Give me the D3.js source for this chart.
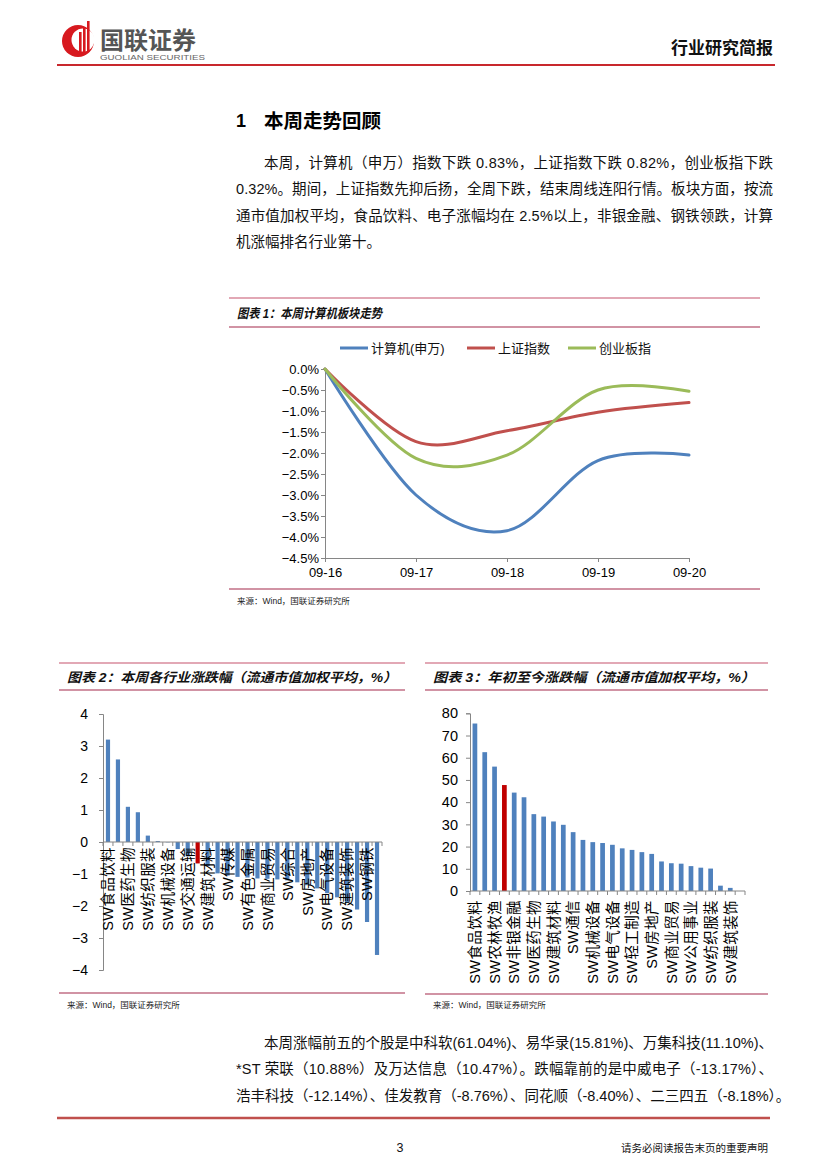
<!DOCTYPE html>
<html><head><meta charset="utf-8">
<script src="https://cdn.jsdelivr.net/npm/d3@7"></script>
<style>
body{margin:0;background:#fff}
svg{display:block}
text{font-family:"Liberation Sans","Noto Sans CJK SC",sans-serif}
</style>
</head><body>
<svg id="page" width="827" height="1169"></svg>
<script>
// ---------- DATA ----------
const lineDates = ["09-16","09-17","09-18","09-19","09-20"];
const seriesNames = ["计算机(申万)","上证指数","创业板指"];
const seriesColors = ["#4f81bd","#c0504d","#9bbb59"];
const computerVals = [0, -3.00, -3.85, -2.18, -2.05];
const shanghaiVals = [0, -1.73, -1.47, -1.03, -0.80];
const chinextVals  = [0, -2.13, -2.05, -0.50, -0.53];
const lineYTicks = [0,-0.5,-1,-1.5,-2,-2.5,-3,-3.5,-4,-4.5];

const weekIndustries = ["SW食品饮料","SW电子","SW医药生物","SW家用电器","SW纺织服装","SW农林牧渔","SW机械设备","SW汽车","SW交通运输","SW计算机","SW建筑材料","SW国防军工","SW传媒","SW休闲服务","SW有色金属","SW化工","SW商业贸易","SW通信","SW综合","SW公用事业","SW房地产","SW采掘","SW电气设备","SW轻工制造","SW建筑装饰","SW银行","SW钢铁","SW非银金融"];
const weekValues = [3.2,2.58,1.1,0.93,0.2,0.03,-0.01,-0.22,-0.45,-0.67,-0.75,-0.98,-1.05,-1.09,-1.11,-1.14,-1.15,-1.17,-1.2,-1.26,-1.35,-1.45,-1.6,-1.73,-1.9,-2.11,-2.5,-3.53];
const weekHighlight = "SW计算机";
const weekTicks = [4,3,2,1,0,-1,-2,-3,-4];

const ytdIndustries = ["SW食品饮料","SW家用电器","SW农林牧渔","SW计算机","SW非银金融","SW电子","SW医药生物","SW休闲服务","SW建筑材料","SW汽车","SW通信","SW银行","SW机械设备","SW化工","SW电气设备","SW国防军工","SW轻工制造","SW传媒","SW房地产","SW有色金属","SW商业贸易","SW交通运输","SW公用事业","SW采掘","SW纺织服装","SW钢铁","SW建筑装饰","SW综合"];
const ytdValues = [75.4,62.5,56.0,47.7,44.3,42.2,34.6,33.5,31.3,29.8,26.5,23.0,22.0,21.6,20.8,19.2,18.5,17.5,16.7,13.3,12.5,12.3,11.2,10.5,10.1,2.4,1.4,0.0];
const ytdHighlight = "SW计算机";
const ytdTicks = [0,10,20,30,40,50,60,70,80];

const para1 = [
 "本周，计算机（申万）指数下跌 0.83%，上证指数下跌 0.82%，创业板指下跌",
 "0.32%。期间，上证指数先抑后扬，全周下跌，结束周线连阳行情。板块方面，按流",
 "通市值加权平均，食品饮料、电子涨幅均在 2.5%以上，非银金融、钢铁领跌，计算",
 "机涨幅排名行业第十。"];
const para2 = [
 "本周涨幅前五的个股是中科软(61.04%)、易华录(15.81%)、万集科技(11.10%)、",
 "*ST 荣联（10.88%）及万达信息（10.47%）。跌幅靠前的是中威电子（-13.17%）、",
 "浩丰科技（-12.14%）、佳发教育（-8.76%）、同花顺（-8.40%）、二三四五（-8.18%）。"];

// ---------- PAGE ----------
const svg = d3.select("#page");
const AX = "#868686", BLUE = "#4f81bd", RED = "#c00000";
const PINK = "#d98b9d", DARK = "#a3284a";

// header logo
const logo = svg.append("g");
logo.append("circle").attr("cx",78).attr("cy",41).attr("r",16).attr("fill","#d7191f");
logo.append("circle").attr("cx",83).attr("cy",40).attr("r",11.5).attr("fill","#fff");
[[79,32,56],[83,27,55],[87,21,52]].forEach(([x,y1,y2])=>{
  logo.append("rect").attr("x",x).attr("y",y1).attr("width",2.6).attr("height",y2-y1).attr("fill","#d7191f");
});
svg.append("text").attr("x",100).attr("y",48.5).attr("font-size",24).attr("font-weight","bold")
  .attr("fill","#555").attr("font-family","Noto Sans CJK SC").text("国联证券");
svg.append("text").attr("x",100).attr("y",59.5).attr("font-size",7).attr("fill","#666")
  .attr("textLength",105).attr("lengthAdjust","spacingAndGlyphs").text("GUOLIAN SECURITIES");
svg.append("text").attr("x",773).attr("y",54).attr("text-anchor","end").attr("font-size",17)
  .attr("font-weight","bold").attr("fill","#111").attr("font-family","Noto Sans CJK SC").text("行业研究简报");
svg.append("line").attr("x1",57).attr("x2",775).attr("y1",65).attr("y2",65).attr("stroke","#c8282d").attr("stroke-width",2);

// section heading
svg.append("text").attr("x",236).attr("y",127).attr("font-size",18).attr("font-weight","bold").text("1");
svg.append("text").attr("x",264).attr("y",127.5).attr("font-size",19.5).attr("font-weight","bold")
  .attr("font-family","Noto Sans CJK SC").text("本周走势回顾");

function paragraph(lines, y0, justifyCount){
  lines.forEach((t,i)=>{
    const x = i===0 ? 264 : 236;
    const tx = svg.append("text").attr("x",x).attr("y",y0+i*26.3).attr("font-size",14.5).attr("fill","#111").text(t);
    if(i<justifyCount) tx.attr("textLength",773-x).attr("lengthAdjust","spacing");
  });
}
paragraph(para1,168,3);

// ---------- CHART 1 ----------
function boxFrame(x1,x2,yTop,yTitle,yBottom,title,titleLen,srcY){
  svg.append("line").attr("x1",x1).attr("x2",x2).attr("y1",yTop).attr("y2",yTop).attr("stroke",PINK).attr("stroke-width",1.5);
  svg.append("line").attr("x1",x1).attr("x2",x2).attr("y1",yTitle).attr("y2",yTitle).attr("stroke",DARK).attr("stroke-width",1.2);
  svg.append("line").attr("x1",x1).attr("x2",x2).attr("y1",yBottom).attr("y2",yBottom).attr("stroke",DARK).attr("stroke-width",1.2);
  const t = svg.append("text").attr("x",x1+8).attr("y",(yTop+yTitle)/2+5).attr("font-size",13)
    .attr("font-weight","bold").attr("font-style","italic").attr("fill","#111").text(title);
  if(titleLen) t.attr("textLength",titleLen).attr("lengthAdjust","spacingAndGlyphs");
  svg.append("text").attr("x",x1+8).attr("y",srcY).attr("font-size",8.5).attr("fill","#222").text("来源：Wind，国联证券研究所");
}
boxFrame(229,760,298,327,589,"图表 1：本周计算机板块走势",145,604);

const lx = d3.scalePoint().domain(lineDates).range([325,689]);
const ly = d3.scaleLinear().domain([-4.5,0]).range([558,369]);
const g1 = svg.append("g");
const yAx1 = g1.append("g").attr("transform","translate(325,0)")
  .call(d3.axisLeft(ly).tickValues(lineYTicks).tickSize(4).tickFormat(d=>d3.format(".1f")(d)+"%"));
const xAx1 = g1.append("g").attr("transform","translate(0,558)")
  .call(d3.axisBottom(lx).tickSize(4).tickPadding(6));
[yAx1,xAx1].forEach(a=>{
  a.selectAll("path,line").attr("stroke",AX);
  a.selectAll("text").attr("fill","#000").attr("font-size",13).attr("font-family","Liberation Sans");
});
yAx1.selectAll("text").attr("x",-6);
const allSeries = [computerVals, shanghaiVals, chinextVals];
const lineGen = d3.line().x((d,i)=>lx(lineDates[i])).y(d=>ly(d)).curve(d3.curveCardinal.tension(0));
allSeries.forEach((vals,k)=>{
  g1.append("path").datum(vals).attr("d",lineGen).attr("fill","none")
    .attr("stroke",seriesColors[k]).attr("stroke-width",3).attr("stroke-linecap","round");
});
// legend
const legX = [340,467,568];
seriesNames.forEach((n,k)=>{
  g1.append("line").attr("x1",legX[k]).attr("x2",legX[k]+28).attr("y1",348).attr("y2",348)
    .attr("stroke",seriesColors[k]).attr("stroke-width",3);
  g1.append("text").attr("x",legX[k]+31).attr("y",352.5).attr("font-size",13).attr("fill","#111").text(n);
});

// ---------- BAR CHART helper ----------
function barChart(opts){
  const {cats, vals, hl, ticks, domain, xr, yr, yLabelX, yFont, labelTop, barPad} = opts;
  const g = svg.append("g");
  const x = d3.scaleBand().domain(cats).range(xr).paddingInner(barPad).paddingOuter(barPad/2);
  const y = d3.scaleLinear().domain(domain).range(yr);
  const ya = g.append("g").attr("transform",`translate(${xr[0]},0)`)
    .call(d3.axisLeft(y).tickValues(ticks).tickSize(4).tickFormat(d3.format("d")));
  ya.selectAll("path,line").attr("stroke",AX);
  ya.selectAll("text").attr("fill","#000").attr("font-size",yFont).attr("font-family","Liberation Sans").attr("x",-(xr[0]-yLabelX));
  const y0 = y(0);
  g.selectAll("rect.bar").data(cats).join("rect").attr("class","bar")
    .attr("x",d=>x(d)).attr("width",x.bandwidth())
    .attr("y",(d,i)=>y(Math.max(0,vals[i]))).attr("height",(d,i)=>Math.abs(y(vals[i])-y0))
    .attr("fill",d=>d===hl?RED:BLUE);
  g.append("line").attr("x1",xr[0]).attr("x2",xr[1]).attr("y1",y0).attr("y2",y0).attr("stroke",AX);
  const step = x.step();
  d3.range(cats.length+1).forEach(i=>{
    const xx = xr[0]+i*step;
    g.append("line").attr("x1",xx).attr("x2",xx).attr("y1",y0).attr("y2",y0+4).attr("stroke",AX);
  });
  cats.forEach((c,i)=>{
    if(i%2!==0) return;
    const cx = x(c)+x.bandwidth()/2;
    g.append("text").attr("transform",`translate(${cx},${labelTop}) rotate(-90)`)
      .attr("text-anchor","end").attr("dy","0.36em").attr("font-size",14.5).attr("letter-spacing",0.4)
      .attr("fill","#000").text(c);
  });
}

// ---------- CHART 2 ----------
boxFrame(59,405,663,690,993,"图表 2：本周各行业涨跌幅（流通市值加权平均，%）",330,1008);
barChart({cats:weekIndustries, vals:weekValues, hl:weekHighlight, ticks:weekTicks, domain:[-4,4],
  xr:[103,382], yr:[970,714], yLabelX:88, yFont:14, labelTop:847, barPad:0.58});

// ---------- CHART 3 ----------
boxFrame(425,768,663,690,994,"图表 3：年初至今涨跌幅（流通市值加权平均，%）",322,1008);
barChart({cats:ytdIndustries, vals:ytdValues, hl:ytdHighlight, ticks:ytdTicks, domain:[0,80],
  xr:[470,745], yr:[891,713.3], yLabelX:458, yFont:14.5, labelTop:900, barPad:0.52});

// ---------- bottom paragraph + footer ----------
paragraph(para2,1048,2);
svg.append("line").attr("x1",57).attr("x2",770).attr("y1",1118).attr("y2",1118).attr("stroke","#c0504d").attr("stroke-width",2.5);
svg.append("text").attr("x",400).attr("y",1152).attr("text-anchor","middle").attr("font-size",12.5).attr("fill","#111").text("3");
svg.append("text").attr("x",768).attr("y",1152).attr("text-anchor","end").attr("font-size",10.5).attr("fill","#111")
  .attr("font-family","Noto Sans CJK SC").text("请务必阅读报告末页的重要声明");
</script>
</body></html>
